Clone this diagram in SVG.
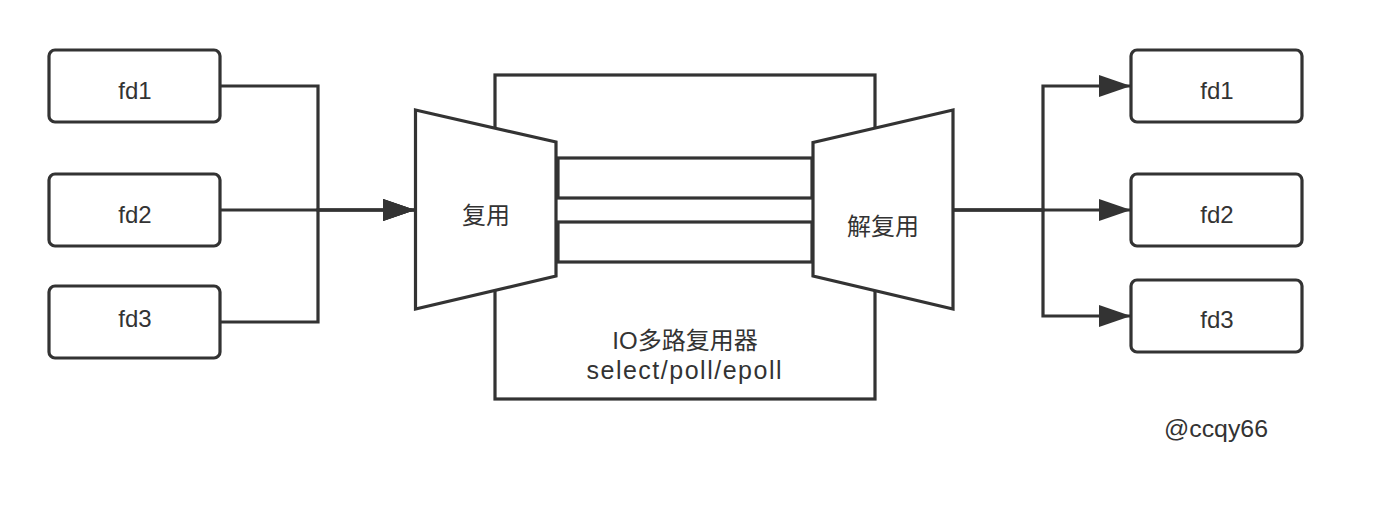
<svg xmlns="http://www.w3.org/2000/svg" width="1387" height="516" viewBox="0 0 1387 516">
<style>
.box{fill:#fff;stroke:#333;stroke-width:3.2}
.shape{fill:#fff;stroke:#333;stroke-width:3.2;stroke-linejoin:miter}
.edge{fill:none;stroke:#333;stroke-width:3.2}
.t{font-family:"Liberation Sans","Noto Sans CJK SC",sans-serif;font-size:24px;fill:#333;text-anchor:middle}
.wm{font-family:"Liberation Sans","Noto Sans CJK SC",sans-serif;font-size:23px;fill:#333;text-anchor:middle}
</style>
<defs>
<marker id="arr" viewBox="0 0 32 22" refX="32" refY="11" markerWidth="32" markerHeight="22" markerUnits="userSpaceOnUse" orient="auto">
<path d="M0,0 L32,11 L0,22 z" fill="#333"/>
</marker>
</defs>
<rect width="1387" height="516" fill="#fff"/>

<g id="mux-container">
<rect class="box" x="495" y="75" width="380" height="324"/>
<text class="t" x="685" y="349">IO多路复用器</text>
<text class="t" x="684" y="379" style="font-size:25px" textLength="195" lengthAdjust="spacing">select/poll/epoll</text>
</g>

<g id="mux">
<path class="shape" d="M415.5,110 L556,142 L556,276 L415.5,309 Z"/>
<text class="t" x="486" y="224">复用</text>
</g>

<g id="demux">
<path class="shape" d="M953,110 L813,142.5 L813,276 L953,309 Z"/>
<text class="t" x="883" y="235">解复用</text>
</g>

<g id="channel1"><rect class="box" x="558" y="158" width="254" height="40"/></g>
<g id="channel2"><rect class="box" x="558" y="222" width="254" height="40"/></g>

<g id="in-fd1"><rect class="box" x="49" y="50" width="171" height="72" rx="6"/><text class="t" x="135" y="99">fd1</text></g>
<g id="in-fd2"><rect class="box" x="49" y="174" width="171" height="72" rx="6"/><text class="t" x="135" y="223">fd2</text></g>
<g id="in-fd3"><rect class="box" x="49" y="286" width="171" height="72" rx="6"/><text class="t" x="135" y="327">fd3</text></g>

<g id="out-fd1"><rect class="box" x="1131" y="50" width="171" height="72" rx="6"/><text class="t" x="1217" y="99">fd1</text></g>
<g id="out-fd2"><rect class="box" x="1131" y="174" width="171" height="72" rx="6"/><text class="t" x="1217" y="223">fd2</text></g>
<g id="out-fd3"><rect class="box" x="1131" y="280" width="171" height="72" rx="6"/><text class="t" x="1217" y="328">fd3</text></g>

<g id="connectors">
<path class="edge" d="M220,86 H318 V210 H415" marker-end="url(#arr)"/>
<path class="edge" d="M220,210 H415" marker-end="url(#arr)"/>
<path class="edge" d="M220,322 H318 V210 H415" marker-end="url(#arr)"/>
<path class="edge" d="M953,210 H1043 V86 H1131" marker-end="url(#arr)"/>
<path class="edge" d="M953,210 H1131" marker-end="url(#arr)"/>
<path class="edge" d="M953,210 H1043 V316 H1131" marker-end="url(#arr)"/>
</g>

<text class="wm" x="1216" y="437" textLength="104" lengthAdjust="spacingAndGlyphs">@ccqy66</text>
</svg>
